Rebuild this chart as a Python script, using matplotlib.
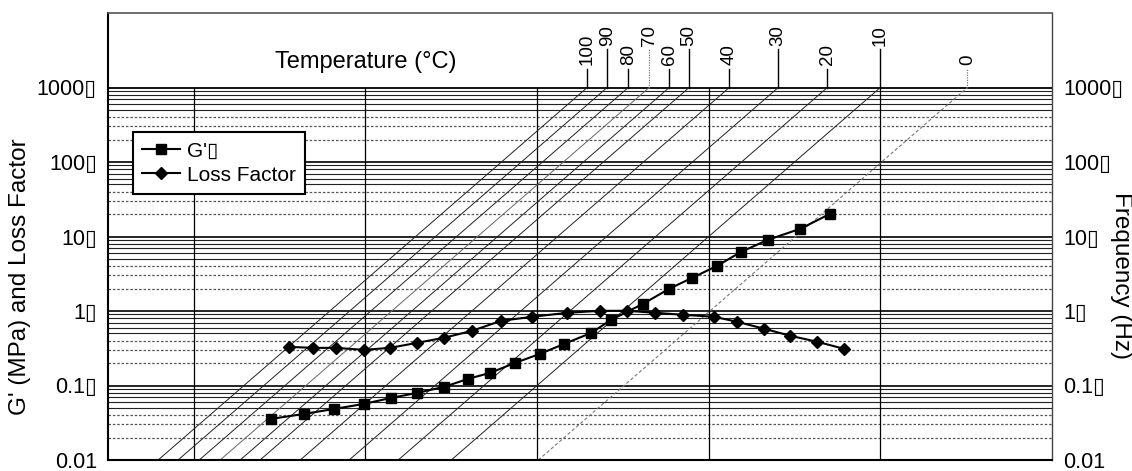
import matplotlib
matplotlib.use('Agg')
import matplotlib.pyplot as plt
from matplotlib.ticker import NullLocator

plt.rcParams['font.family'] = ['Liberation Sans', 'DejaVu Sans']

BOX = '\u25af'

# ---- data ----
gp_freq = [2.81, 4.38, 6.55, 9.79, 14.1, 20.0, 28.7, 39.6, 53.2, 74.5, 104, 144,
           207, 270, 415, 589, 802, 1122, 1549, 2223, 3420, 5105]
gp_val = [0.0356, 0.0415, 0.0484, 0.0566, 0.0681, 0.0796, 0.0958, 0.1227, 0.1476,
          0.2013, 0.266, 0.362, 0.509, 0.762, 1.25, 1.99, 2.79, 4.05, 6.25, 9.06,
          12.7, 20.2]
lf_freq = [3.58, 4.94, 6.73, 9.79, 13.9, 20.0, 28.7, 41.8, 61.7, 93.5, 150, 233,
           335, 488, 710, 1076, 1466, 2109, 2985, 4295, 6166]
lf_val = [0.330, 0.320, 0.320, 0.301, 0.320, 0.374, 0.437, 0.542, 0.738, 0.836,
          0.946, 1.006, 1.006, 0.946, 0.889, 0.836, 0.716, 0.577, 0.465, 0.386, 0.310]

temps = [100, 90, 80, 70, 60, 50, 40, 30, 20, 10, 0]
temp_top_freq = [196, 256, 340, 450, 589, 769, 1318, 2541, 4909, 10000, 32150]
isotherm_slope = 2.0          # decades of frequency per decade of reduced frequency

ytick_vals = [0.01, 0.1, 1, 10, 100, 1000]
ytick_labels = ['0.01', '0.1' + BOX, '1' + BOX, '10' + BOX, '100' + BOX, '1000' + BOX]
vgrid_vals = [1, 10, 100, 1000, 10000]

y_min, y_max, grid_top = 0.01, 1e4, 1000
x_min, x_max = 10 ** -0.5, 1e5

# ---- figure ----
W, H = 1132, 471
fig = plt.figure(figsize=(W / 100, H / 100), dpi=100)
ax = fig.add_axes([108 / W, 11 / H, 944 / W, 447 / H])
ax.set_xscale('log')
ax.set_yscale('log')
ax.set_xlim(x_min, x_max)
ax.set_ylim(y_min, y_max)

# horizontal grid (major + minor) only up to 1000
for d in range(-2, 3):
    for m in range(1, 10):
        v = m * 10 ** d
        if m == 1:
            ax.axhline(v, color='black', lw=1.2, zorder=1)
        elif m in (5, 6, 7, 8, 9):
            ax.axhline(v, color='#222222', lw=0.8, zorder=1)
        else:
            ax.axhline(v, color='#555555', lw=0.9, ls=(0, (2, 1.5)), zorder=1)
ax.axhline(grid_top, color='black', lw=1.3, zorder=1)

# vertical grid
for xv in vgrid_vals:
    ax.plot([xv, xv], [y_min, grid_top], color='black', lw=0.9, zorder=1)

# isotherms and temperature leaders
span = (3 - (-2)) / isotherm_slope
for i, (T, xt) in enumerate(zip(temps, temp_top_freq)):
    x0 = xt * 10 ** (-span)
    if T == 0:
        kw = dict(color='#777777', lw=0.8, ls=(0, (3, 2)))
        lkw = dict(color='#777777', lw=0.9, ls=(0, (1, 1)))
    elif T == 70:
        kw = dict(color='#666666', lw=0.7)
        lkw = dict(color='#777777', lw=0.9, ls=(0, (1, 1)))
    else:
        kw = dict(color='#222222', lw=0.7)
        lkw = dict(color='black', lw=1.0)
    ax.plot([x0, xt], [y_min, grid_top], zorder=2, **kw)
    long_leader = (i % 2 == 1)
    top = 3245 if long_leader else 1745
    tbot = 3556 if long_leader else 1977
    ax.plot([xt, xt], [grid_top, top], zorder=2, **lkw)
    ax.text(xt, tbot, str(T), rotation=90, ha='center', va='bottom', fontsize=13.5)

# data series
ax.plot(gp_freq, gp_val, '-s', color='black', ms=7, lw=1.5, zorder=5,
        label="G'" + BOX)
ax.plot(lf_freq, lf_val, '-D', color='black', ms=6.5, lw=1.5, zorder=5,
        label='Loss Factor')

# axes ticks
ax.set_xticks([])
ax.xaxis.set_minor_locator(NullLocator())
ax.yaxis.set_minor_locator(NullLocator())
ax.set_yticks(ytick_vals, ytick_labels)
ax.tick_params(axis='y', which='both', length=0, labelsize=15.5, pad=8,
               left=True, right=True, labelleft=True, labelright=True)

for s in ['left', 'bottom']:
    ax.spines[s].set_linewidth(1.5)
    ax.spines[s].set_color('black')
ax.spines['right'].set_linewidth(1.0)
ax.spines['right'].set_color('#444444')
ax.spines['top'].set_linewidth(1.2)
ax.spines['top'].set_color('#555555')

leg = ax.legend(loc='upper left', bbox_to_anchor=(25 / 944, (460 - 132) / 447),
                borderaxespad=0, fontsize=15, frameon=True, fancybox=False,
                edgecolor='black', framealpha=1, handlelength=1.8,
                handletextpad=0.35, borderpad=0.45, labelspacing=0.25)
leg.get_frame().set_linewidth(1.5)
leg.set_zorder(10)

fig.text(366 / W, 1 - 68 / H, 'Temperature (\u00b0C)', ha='center', va='baseline',
         fontsize=17)
fig.text(20 / W, 1 - 277 / H, "G' (MPa) and Loss Factor", rotation=90,
         ha='center', va='center', fontsize=17.5)
fig.text(1121 / W, 1 - 276 / H, 'Frequency (Hz)', rotation=-90,
         ha='center', va='center', fontsize=17.5)

fig.savefig('out.png', dpi=100)
